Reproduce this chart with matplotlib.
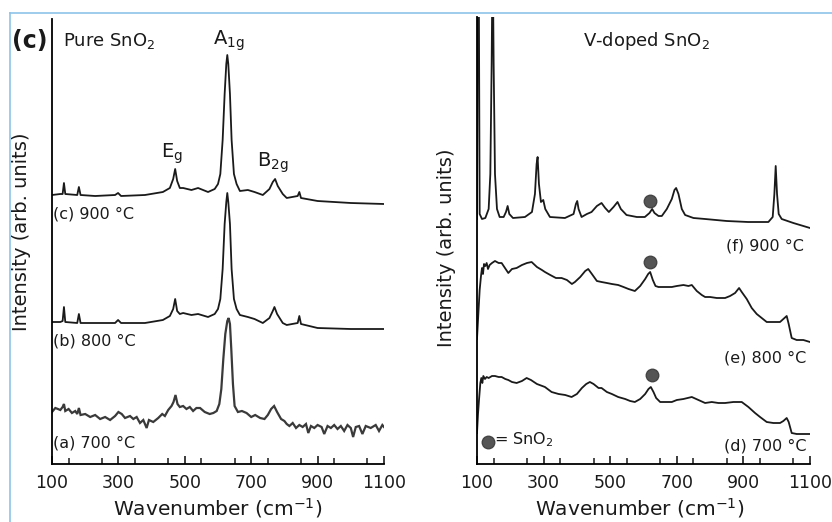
import matplotlib
matplotlib.use("Agg")
import matplotlib.pyplot as plt
from matplotlib.lines import Line2D

plt.rcParams['font.family'] = ['DejaVu Sans']
plt.rcParams['mathtext.default'] = 'regular'

# ---------------- data ----------------
# Pure SnO2, (c) 900 C
wn_c = [100, 125, 132, 136, 140, 176, 181, 186, 230, 290, 299, 308, 380, 434, 455, 465, 471, 477,
        485, 495, 520, 540, 570, 590, 600, 607, 614, 620, 625, 628, 631, 636, 641, 648, 656, 666,
        690, 710, 735, 755, 765, 772, 780, 795, 807, 840, 845, 850, 900, 1000, 1100]
int_c = [269, 270, 270, 281, 270, 269, 277, 269, 268, 269, 271, 268, 269, 272, 276, 285, 295, 283,
         276, 276, 274, 276, 272, 275, 280, 290, 324, 370, 400, 409, 400, 370, 324, 290, 280, 273,
         274, 272, 269, 275, 282, 285, 278, 270, 266, 268, 272, 266, 263, 261, 260]

# Pure SnO2, (b) 800 C
wn_b = [100, 125, 132, 136, 140, 176, 181, 186, 230, 290, 299, 308, 380, 434, 455, 465, 471, 477,
        485, 495, 520, 540, 570, 590, 600, 607, 614, 620, 625, 628, 631, 636, 641, 648, 656, 666,
        690, 710, 735, 755, 765, 770, 778, 795, 807, 840, 845, 850, 900, 1000, 1100]
int_b = [142, 142, 143, 157, 142, 141, 150, 141, 141, 141, 144, 141, 141, 144, 148, 155, 165, 153,
         150, 151, 149, 150, 147, 150, 155, 165, 195, 240, 262, 271, 262, 240, 195, 165, 155, 149,
         147, 145, 141, 146, 153, 157, 150, 141, 139, 141, 148, 140, 136, 135, 135]

# Pure SnO2, (a) 700 C
wn_a = [100, 110, 118, 125, 132, 136, 140, 150, 160, 170, 176, 181, 186, 200, 215, 230, 245, 260,
        275, 290, 300, 310, 320, 335, 345, 355, 365, 375, 385, 392, 405, 420, 432, 440, 450, 460,
        466, 472, 478, 485, 495, 505, 515, 525, 535, 546, 560, 575, 586, 596, 604, 610, 616, 622,
        628, 632, 636, 640, 645, 650, 660, 672, 686, 700, 712, 727, 740, 750, 760, 769, 778, 790,
        800, 807, 815, 825, 835, 845, 855, 865, 872, 880, 890, 900, 912, 920, 930, 940, 950, 960,
        970, 980, 990, 1000, 1007, 1015, 1025, 1035, 1045, 1060, 1075, 1085, 1095, 1100]
int_a = [52, 56, 55, 54, 57, 60, 53, 55, 51, 53, 50, 56, 49, 50, 47, 49, 45, 47,
         44, 48, 52, 50, 46, 48, 45, 47, 41, 44, 36, 44, 42, 46, 50, 48, 54, 58,
         62, 69, 60, 57, 58, 55, 57, 53, 56, 56, 52, 50, 51, 53, 60, 75, 105, 130,
         143, 146, 140, 115, 80, 58, 52, 53, 51, 47, 49, 46, 45, 49, 55, 58, 52, 45,
         43, 40, 38, 41, 36, 39, 37, 40, 31, 38, 36, 39, 37, 30, 38, 36, 39, 35,
         38, 33, 39, 36, 27, 37, 38, 30, 38, 36, 39, 33, 39, 37]

# V-doped SnO2, (f) 900 C
wn_f = [100, 102, 105, 108, 115, 125, 135, 140, 144, 147, 150, 154, 160, 168, 180, 187, 192, 197,
        208, 244, 265, 274, 279, 282, 286, 292, 299, 305, 319, 364, 390, 397, 401, 405, 414, 430,
        444, 460, 474, 485, 496, 510, 522, 532, 549, 580, 604, 618, 626, 633, 645, 655, 670, 685,
        693, 698, 705, 715, 725, 750, 785, 850, 914, 975, 988, 993, 997, 1001, 1006, 1015, 1050,
        1080, 1100]
int_f = [245, 520, 520, 250, 245, 246, 255, 290, 400, 520, 400, 290, 255, 247, 247, 252, 258, 250,
         246, 247, 252, 270, 300, 307, 280, 262, 264, 255, 247, 246, 250, 260, 263, 255, 247, 250,
         252, 258, 261, 256, 252, 257, 262, 255, 249, 247, 247, 251, 255, 251, 248, 248, 255, 265,
         274, 276, 270, 255, 249, 246, 245, 243, 242, 242, 247, 270, 298, 270, 250, 245, 241,
         238, 236]

# V-doped SnO2, (e) 800 C
wn_e = [100, 104, 108, 112, 115, 118, 121, 125, 129, 133, 138, 145, 154, 165, 174, 184, 194, 205,
        219, 235, 250, 264, 280, 295, 304, 320, 337, 354, 370, 385, 394, 410, 425, 434, 445, 460,
        474, 490, 505, 524, 540, 555, 574, 590, 605, 614, 620, 628, 636, 645, 660, 685, 700, 720,
        735, 745, 760, 775, 785, 800, 820, 845, 860, 875, 887, 895, 910, 925, 940, 955, 970, 990,
        1010, 1020, 1030, 1036, 1045, 1060, 1080, 1100]
int_e = [125, 150, 174, 188, 196, 190, 200, 198, 201, 195, 199, 201, 203, 201, 201, 196, 191, 195,
         196, 199, 201, 202, 197, 194, 192, 189, 186, 186, 184, 180, 182, 187, 193, 195, 190, 183,
         182, 181, 180, 179, 177, 175, 173, 178, 185, 190, 192, 184, 178, 177, 177, 177, 178, 179,
         178, 179, 173, 169, 167, 167, 166, 166, 168, 171, 176, 172, 165, 156, 150, 146, 142, 142,
         142, 145, 148, 140, 126, 124, 124, 122]

# V-doped SnO2, (d) 700 C
wn_d = [100, 103, 106, 110, 113, 116, 119, 124, 129, 135, 145, 154, 165, 174, 185, 194, 205, 219,
        235, 249, 262, 280, 304, 324, 345, 365, 384, 400, 415, 428, 439, 450, 465, 474, 490, 505,
        524, 545, 560, 574, 590, 605, 615, 622, 630, 638, 650, 665, 685, 700, 720, 745, 765, 785,
        805, 825, 845, 870, 895, 915, 935, 950, 970, 990, 1010, 1020, 1030, 1036, 1045, 1060, 1080,
        1100]
int_d = [31, 50, 64, 81, 86, 81, 88, 85, 87, 86, 88, 88, 87, 87, 85, 84, 82, 81,
         83, 86, 84, 80, 77, 72, 70, 69, 67, 70, 76, 80, 82, 80, 76, 76, 72, 70,
         67, 65, 63, 62, 65, 70, 75, 77, 72, 66, 62, 62, 62, 64, 65, 67, 64, 61,
         62, 61, 61, 62, 62, 57, 51, 47, 42, 41, 41, 43, 46, 42, 31, 30, 30,
         30]

# SnO2 markers (filled dots) on V-doped spectra and legend dot
dot_wn = [620, 620, 626]
dot_int = [263, 202, 89]
legend_dot_wn = [133]
legend_dot_int = [22]

xticks_major = [100, 300, 500, 700, 900, 1100]
xtick_labels = ['100', '300', '500', '700', '900', '1100']

# ---------------- figure ----------------
W, H = 832, 522
fig = plt.figure(figsize=(W / 100, H / 100), dpi=100)
fig.patch.set_facecolor('white')


def fx(px):
    return px / W


def fy(py):
    return 1 - py / H


axL = fig.add_axes([fx(52), fy(464), fx(384) - fx(52), fy(19) - fy(464)])
axR = fig.add_axes([fx(477), fy(464), fx(810) - fx(477), fy(17) - fy(464)])

line_kw = dict(color='#1a1a1a', lw=1.3, solid_joinstyle='round')
axL.plot(wn_c, int_c, **line_kw)
axL.plot(wn_b, int_b, **line_kw)
axL.plot(wn_a, int_a, color='#3a3a3a', lw=1.6, solid_joinstyle='miter')

axR.plot(wn_f, int_f, **line_kw)
axR.plot(wn_e, int_e, **line_kw)
axR.plot(wn_d, int_d, **line_kw)
axR.plot(dot_wn, dot_int, 'o', color='#555555', ms=9, mec='#444444', ls='none')
axR.plot(legend_dot_wn, legend_dot_int, 'o', color='#555555', ms=9, mec='#444444', ls='none',
         clip_on=False)

for ax, top in ((axL, 445), (axR, 447)):
    ax.set_xlim(100, 1100)
    ax.set_ylim(0, top)
    ax.spines['top'].set_visible(False)
    ax.spines['right'].set_visible(False)
    ax.spines['left'].set_linewidth(1.3)
    ax.spines['bottom'].set_linewidth(1.3)
    ax.set_yticks([])
    ax.set_xticks(xticks_major)
    ax.set_xticklabels(xtick_labels)
    ax.set_xticks(list(range(150, 1100, 100)), minor=True)
    ax.tick_params(axis='x', which='major', direction='in', length=6, width=1.2,
                   labelsize=12.5, pad=7, colors='#1a1a1a')
    ax.tick_params(axis='x', which='minor', direction='in', length=4, width=1.1,
                   colors='#1a1a1a')
    ax.patch.set_alpha(0)

# ---------------- texts ----------------
tc = '#1a1a1a'
fig.text(fx(12), fy(41), '(c)', fontsize=17, fontweight='bold', ha='left', va='center', color=tc)
fig.text(fx(63), fy(41), 'Pure SnO$_2$', fontsize=13, ha='left', va='center', color=tc)
fig.text(fx(229), fy(41), 'A$_{1g}$', fontsize=14, ha='center', va='center', color=tc)
fig.text(fx(172), fy(154), 'E$_g$', fontsize=14, ha='center', va='center', color=tc)
fig.text(fx(273), fy(163), 'B$_{2g}$', fontsize=14, ha='center', va='center', color=tc)
fig.text(fx(53), fy(214), '(c) 900 °C', fontsize=11.5, ha='left', va='center', color=tc)
fig.text(fx(53), fy(341), '(b) 800 °C', fontsize=11.5, ha='left', va='center', color=tc)
fig.text(fx(53), fy(443), '(a) 700 °C', fontsize=11.5, ha='left', va='center', color=tc)

fig.text(fx(646), fy(41), 'V-doped SnO$_2$', fontsize=13, ha='center', va='center', color=tc)
fig.text(fx(804), fy(246), '(f) 900 °C', fontsize=11.5, ha='right', va='center', color=tc)
fig.text(fx(806), fy(358), '(e) 800 °C', fontsize=11.5, ha='right', va='center', color=tc)
fig.text(fx(806), fy(446), '(d) 700 °C', fontsize=11.5, ha='right', va='center', color=tc)
fig.text(fx(494), fy(440), '= SnO$_2$', fontsize=11.5, ha='left', va='center', color=tc)

fig.text(fx(22), fy(232), 'Intensity (arb. units)', fontsize=14, rotation=90,
         ha='center', va='center', color=tc)
fig.text(fx(447), fy(248), 'Intensity (arb. units)', fontsize=14, rotation=90,
         ha='center', va='center', color=tc)
fig.text(fx(218), fy(508), 'Wavenumber (cm$^{-1}$)', fontsize=14.5, ha='center', va='center',
         color=tc)
fig.text(fx(640), fy(508), 'Wavenumber (cm$^{-1}$)', fontsize=14.5, ha='center', va='center',
         color=tc)

# light blue frame from the scan (top and left edges)
fig.add_artist(Line2D([fx(10), 1], [fy(13), fy(13)], color='#8ec3e8', lw=1.2))
fig.add_artist(Line2D([fx(10), fx(10)], [0, fy(13)], color='#8ec3e8', lw=1.2))

fig.savefig('out.png', dpi=100, facecolor='white')
